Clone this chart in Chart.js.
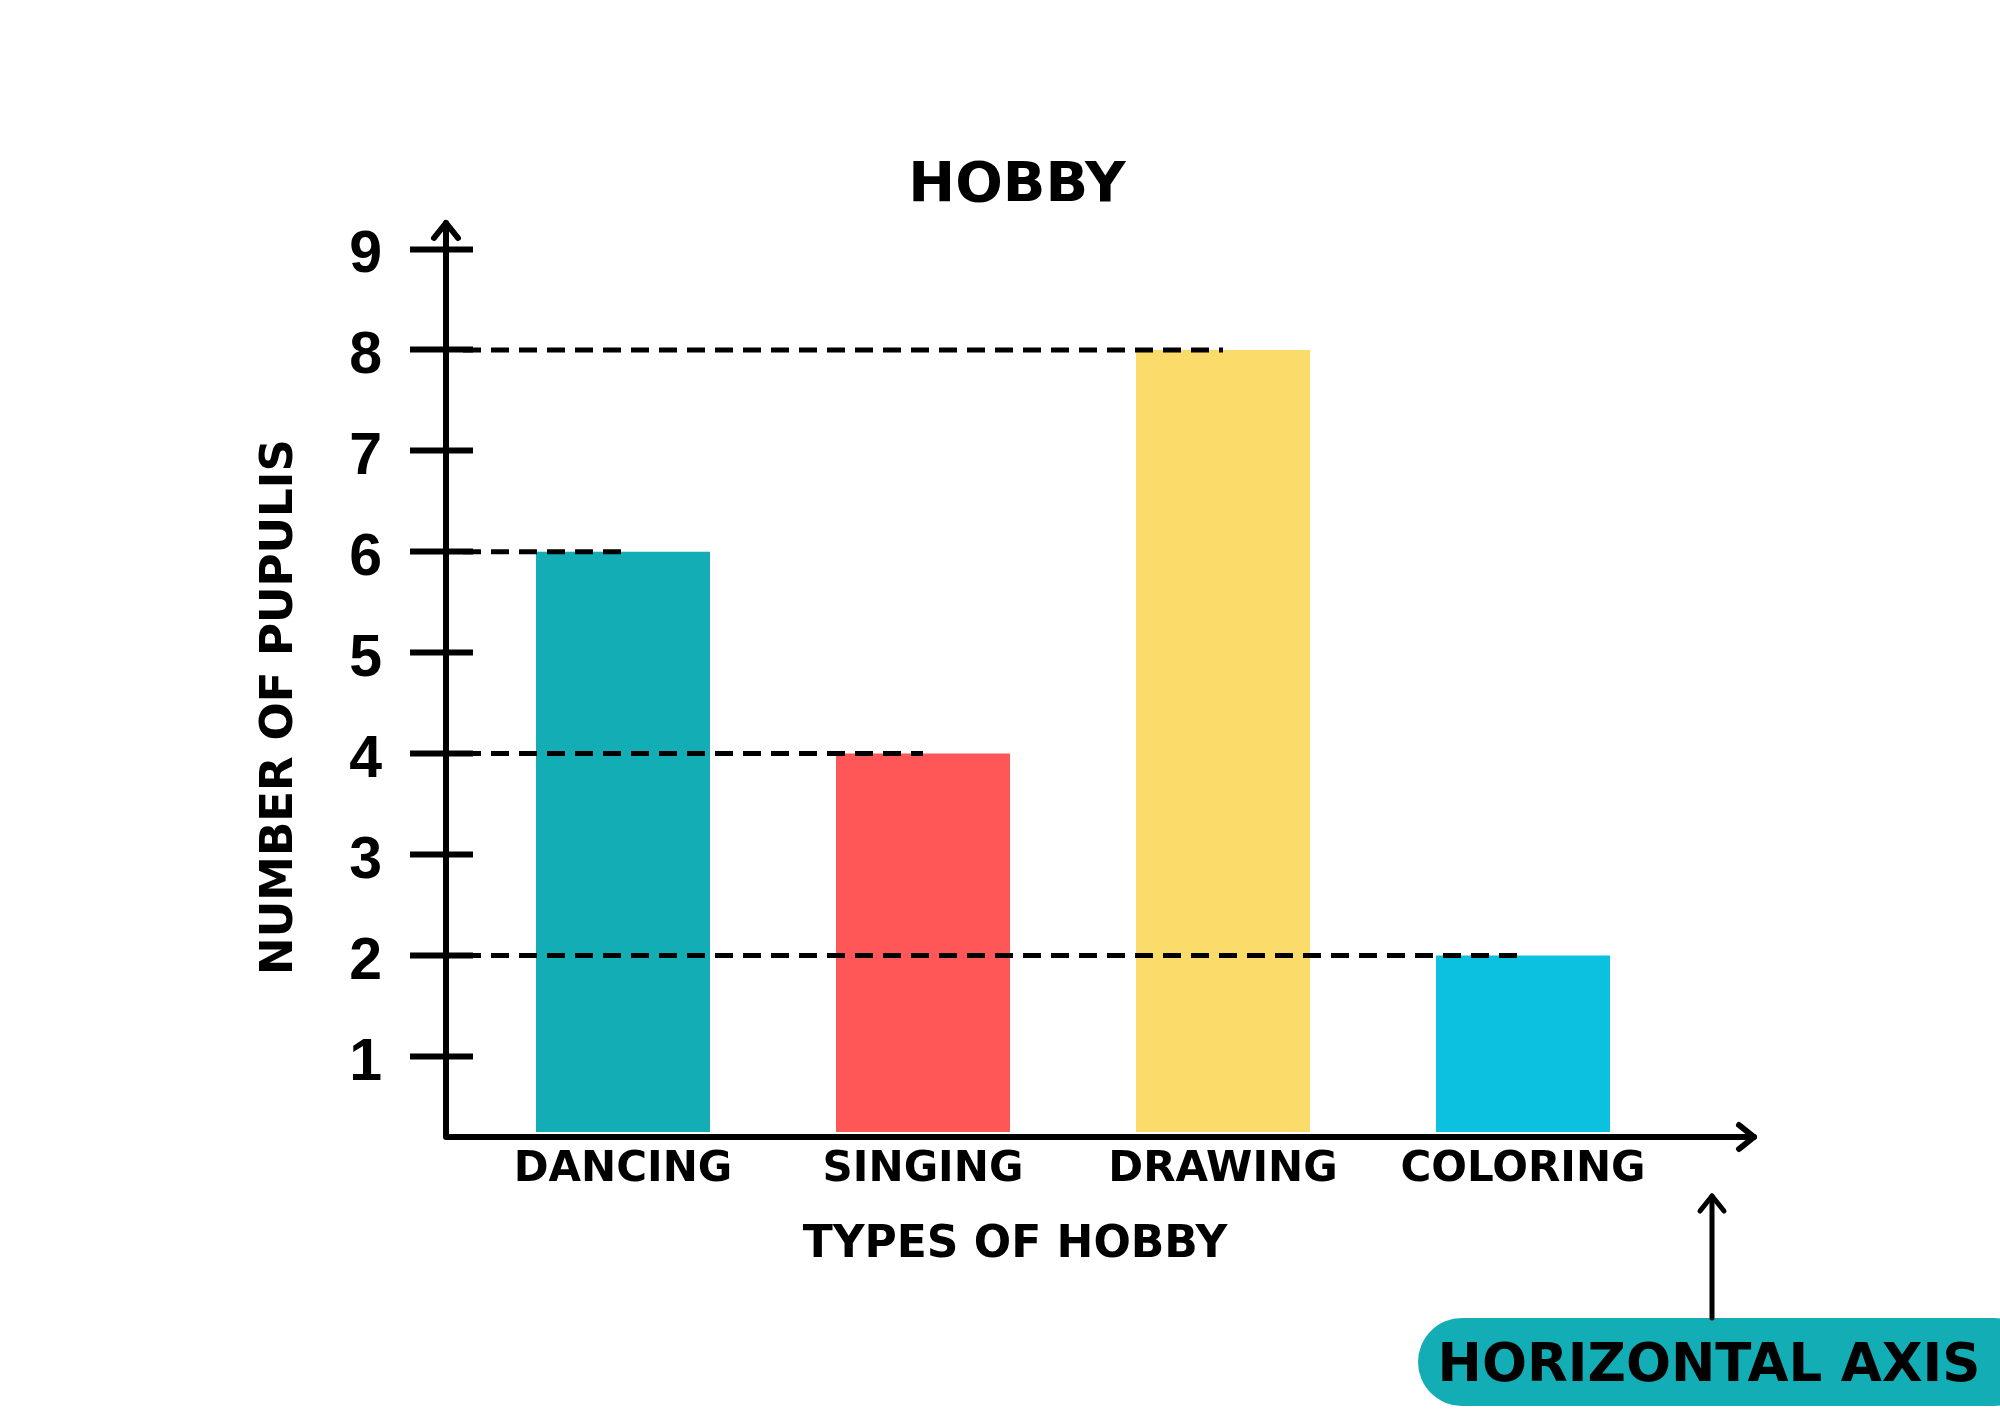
<!DOCTYPE html>
<html>
<head>
<meta charset="utf-8">
<script src="https://cdn.jsdelivr.net/npm/chart.js@4"></script>
<style>
  html, body { margin: 0; padding: 0; background: #fff; }
  #wrap { width: 2000px; height: 1414px; }
</style>
</head>
<body>
<div id="wrap"><canvas id="chart-hobby" width="2000" height="1414"></canvas></div>
<script>
const HOBBIES = ['DANCING', 'SINGING', 'DRAWING', 'COLORING'];
const PUPILS = [6, 4, 8, 2];
const BAR_COLORS = ['#13AEB5', '#FF5757', '#FBDB6A', '#0CC0DF'];
const Y_TICKS = [1, 2, 3, 4, 5, 6, 7, 8, 9];

const CHART_TITLE = 'HOBBY';
const X_TITLE = 'TYPES OF HOBBY';
const Y_TITLE = 'NUMBER OF PUPULIS';
const NOTE_TEXT = 'HORIZONTAL AXIS';

const TITLE_FONT = '"DejaVu Sans", sans-serif';

function arrowHead(ctx, x, y, dir) {
  // chevron pointing in dir ('up' | 'right')
  ctx.beginPath();
  if (dir === 'up') {
    ctx.moveTo(x - 12, y + 15); ctx.lineTo(x, y); ctx.lineTo(x + 12, y + 15);
  } else {
    ctx.moveTo(x - 15, y - 12); ctx.lineTo(x, y); ctx.lineTo(x - 15, y + 12);
  }
  ctx.stroke();
}

function capText(ctx, text, cx, cy, size) {
  ctx.font = `bold ${size}px ${TITLE_FONT}`;
  ctx.textAlign = 'center';
  ctx.textBaseline = 'alphabetic';
  ctx.fillText(text, cx, cy + size * 0.36);
}

const decorPlugin = {
  id: 'hobbyDecor',
  afterDraw(chart) {
    const { ctx, chartArea: area, scales: { x, y } } = chart;
    const axisX = area.left - 27;
    const axisY = area.bottom + 5;
    ctx.save();
    ctx.strokeStyle = '#000';
    ctx.fillStyle = '#000';

    // dashed guides from the axis to each bar
    ctx.lineWidth = 5;
    ctx.setLineDash([18, 10]);
    PUPILS.forEach((v, i) => {
      const py = y.getPixelForValue(v);
      ctx.beginPath();
      ctx.moveTo(area.left - 10, py);
      ctx.lineTo(x.getPixelForValue(i), py);
      ctx.stroke();
    });
    ctx.setLineDash([]);

    // axes with arrows
    ctx.lineWidth = 6;
    ctx.lineCap = 'round';
    ctx.lineJoin = 'round';
    ctx.beginPath();
    ctx.moveTo(axisX, area.top - 26);
    ctx.lineTo(axisX, axisY);
    ctx.lineTo(area.right + 81, axisY);
    ctx.stroke();
    arrowHead(ctx, axisX, area.top - 26, 'up');
    arrowHead(ctx, area.right + 81, axisY, 'right');

    // titles
    capText(ctx, CHART_TITLE, 1017, 181, 56);
    capText(ctx, X_TITLE, 1015, 1241, 44);
    ctx.save();
    ctx.translate(276, 707);
    ctx.rotate(-Math.PI / 2);
    capText(ctx, Y_TITLE, 0, 0, 45);
    ctx.restore();

    // "horizontal axis" note
    ctx.fillStyle = BAR_COLORS[0];
    ctx.beginPath();
    ctx.roundRect(1418, 1318, 620, 88, 44);
    ctx.fill();
    ctx.fillStyle = '#000';
    capText(ctx, NOTE_TEXT, 1709, 1362, 53);
    ctx.lineWidth = 5;
    ctx.beginPath();
    ctx.moveTo(1712, 1318);
    ctx.lineTo(1712, 1196);
    ctx.stroke();
    arrowHead(ctx, 1712, 1196, 'up');

    ctx.restore();
  }
};

new Chart(document.getElementById('chart-hobby'), {
  type: 'bar',
  data: {
    labels: HOBBIES,
    datasets: [{
      data: PUPILS,
      backgroundColor: BAR_COLORS,
      borderWidth: 0,
      categoryPercentage: 1,
      barPercentage: 0.58
    }]
  },
  options: {
    responsive: false,
    animation: false,
    devicePixelRatio: 1,
    layout: { padding: { top: 249, right: 327, bottom: 0, left: 0 } },
    plugins: { legend: { display: false }, tooltip: { enabled: false }, title: { display: false } },
    scales: {
      x: {
        grid: { display: false, drawTicks: false },
        border: { display: false },
        ticks: { color: '#000', padding: 13, font: { family: TITLE_FONT, size: 42, weight: 'bold' } },
        afterFit: s => { s.height = 282; }
      },
      y: {
        min: 0.25, max: 9,
        afterBuildTicks: s => { s.ticks = Y_TICKS.map(v => ({ value: v })); },
        grid: { drawOnChartArea: false, drawTicks: true, tickLength: 63, tickWidth: 6, tickColor: '#000' },
        border: { display: false },
        ticks: { color: '#000', padding: 28, labelOffset: 7, font: { family: '"Liberation Sans", Arial, sans-serif', size: 59, weight: 'bold' } },
        afterFit: s => { s.width = 473; }
      }
    }
  },
  plugins: [decorPlugin]
});
</script>
</body>
</html>
